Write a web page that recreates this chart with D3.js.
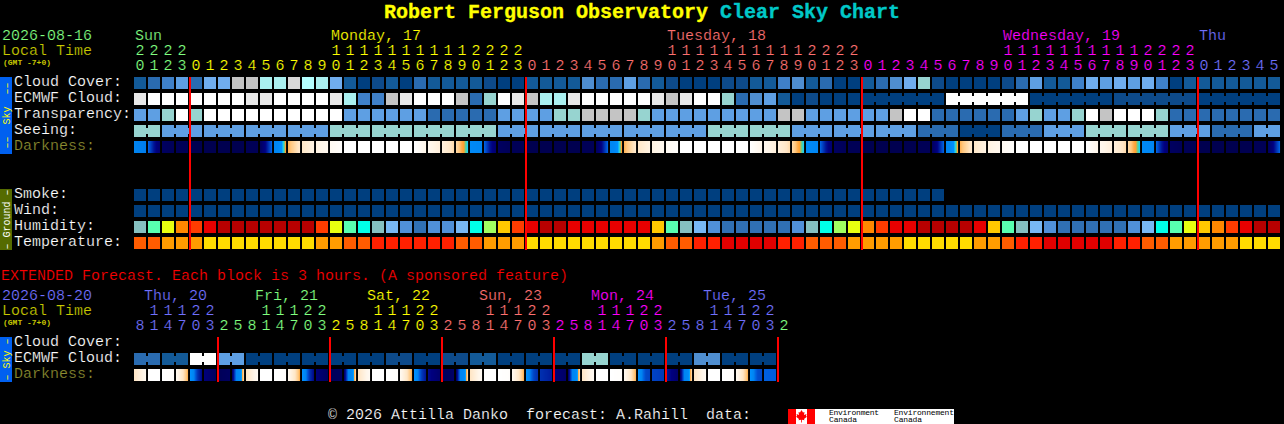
<!DOCTYPE html>
<html>
<head>
<meta charset="utf-8">
<script src="https://cdnjs.cloudflare.com/ajax/libs/d3/7.8.5/d3.min.js"></script>
<style>
html,body{margin:0;padding:0;background:#000;overflow:hidden}
svg{display:block}
text{font-family:"Liberation Mono",monospace;font-size:15px;white-space:pre;stroke:#000;stroke-width:.2px}
text.small{stroke:none}
text.title{stroke-width:.35px}
</style>
</head>
<body>
<script>
// ---------- tick labels ----------
const mainHours = [20,21,22,23,
 0,1,2,3,4,5,6,7,8,9,10,11,12,13,14,15,16,17,18,19,20,21,22,23,
 0,1,2,3,4,5,6,7,8,9,10,11,12,13,14,15,16,17,18,19,20,21,22,23,
 0,1,2,3,4,5,6,7,8,9,10,11,12,13,14,15,16,17,18,19,20,21,22,23,
 0,1,2,3,4,5];
const mainDayLabels = ["Sun","Monday, 17","Tuesday, 18","Wednesday, 19","Thu"];
const mainDayLabelCols = [0,14,38,62,76];
const mainDayStarts = [0,4,28,52,76];
const mainDayColors = ["#80ff80","#ffff00","#ff7070","#ff00ff","#7070ff"];

const extHours = [8,11,14,17,20,23,
 2,5,8,11,14,17,20,23, 2,5,8,11,14,17,20,23, 2,5,8,11,14,17,20,23,
 2,5,8,11,14,17,20,23, 2,5,8,11,14,17,20,23, 2];
const extDayLabels = ["Thu, 20","Fri, 21","Sat, 22","Sun, 23","Mon, 24","Tue, 25"];
const extDayLabelCols = [0,8,16,24,32,40];
const extDayStarts = [0,6,14,22,30,38,46];
const extDayColors = ["#7070ff","#80ff80","#ffff00","#ff7070","#ff00ff","#7070ff","#80ff80"];

const mainRows = ["Cloud Cover:","ECMWF Cloud:","Transparency:","Seeing:","Darkness:"];
const groundRows = ["Smoke:","Wind:","Humidity:","Temperature:"];
const extRows = ["Cloud Cover:","ECMWF Cloud:","Darkness:"];
const midnightCols = [4,28,52,76];
const extMidnightCols = [6,14,22,30,38,46];

// ---------- series values (colour-key levels) ----------
const cloudCover = [2,3,4,6,3,7,7,11,11,9,9,12,10,9,7,2,0,1,2,0,3,2,2,2,2,1,0,0,2,2,2,2,5,3,3,6,3,2,1,0,0,0,1,1,2,2,4,5,2,3,0,0,2,3,5,7,8,1,0,0,0,0,1,3,6,2,2,4,7,6,7,6,7,4,0,2,2,2,2,2,2,2];
const ecmwfCloud = [13,14,14,14,14,14,14,14,13,13,14,14,14,14,13,9,4,4,11,13,14,14,14,11,3,8,14,13,11,9,9,13,14,14,14,14,14,13,11,13,14,14,8,3,5,6,2,0,1,0,0,0,0,0,0,0,0,0,14,14,14,14,14,14,0,0,0,0,0,0,1,1,1,1,1,1,0,0,0,0,0,0];
const transparency = [6,6,8,14,8,14,14,14,14,14,14,14,14,14,14,6,6,6,6,6,6,3,3,3,3,3,6,6,6,6,8,8,11,11,11,11,8,6,6,6,6,6,6,6,6,6,11,11,6,6,6,6,6,6,11,14,14,3,3,3,3,3,3,6,8,6,6,8,14,11,14,14,14,8,3,3,3,3,3,3,3,3];
const seeing = [8,8,6,6,6,6,6,6,6,6,6,6,6,6,8,8,8,8,8,8,8,8,8,8,8,8,6,6,6,6,6,6,6,6,6,6,6,6,6,6,6,8,8,8,8,8,8,6,6,6,6,6,6,6,6,6,3,3,3,0,0,0,3,3,3,6,6,6,8,8,8,8,8,8,6,6,6,3,3,3,6,6];
const darkness = [
 [4.5,4.6],[5,6.6,7.5],[8,8.5],[8.6],[9],[9],[9],[9],[8.6],[8,6.8,5],[4.4,4.2,3.3,3],[2.8,1.9],[1.9,1.2],[1.2,.8],[.6,.2],[0],[0],[0],[0],[0],[0,1],[.8,1.4],[1.4,2.2],[2.3,2.9,3.2],
 [4,4.3],[5,6.6,7.5],[8,8.5],[8.6],[9],[9],[9],[9],[8.6],[8,6.8,5],[4.4,4.2,3.3,3],[2.8,1.9],[1.9,1.2],[1.2,.8],[.6,.2],[0],[0],[0],[0],[0],[0,1],[.8,1.4],[1.4,2.2],[2.3,2.9,3.2],
 [4,4.3],[5,6.6,7.5],[8,8.5],[8.6],[9],[9],[9],[9],[8.6],[8,6.8,5],[4.4,4.2,3.3,3],[2.8,1.9],[1.9,1.2],[1.2,.8],[.6,.2],[0],[0],[0],[0],[0],[0,1],[.8,1.4],[1.4,2.2],[2.3,2.9,3.2],
 [4,4.3],[5,6.6,7.5],[8,8.5],[8.6],[9],[9],[9],[9],[8.6],[8,6.8,5]];
const smoke = [0,0,0,0,0,0,0,0,0,0,0,0,0,0,0,0,0,0,0,0,0,0,0,0,0,0,0,0,0,0,0,0,0,0,0,0,0,0,0,0,0,0,0,0,0,0,0,0,0,0,0,0,0,0,0,0,0,0];
const wind = [0,0,0,0,0,0,0,0,0,0,0,0,0,0,0,0,0,0,0,0,0,0,0,0,0,0,0,0,0,0,0,0,0,0,0,0,0,0,0,0,0,0,0,0,0,0,0,0,0,0,0,0,0,0,0,0,0,0,0,0,0,0,0,0,0,0,0,0,0,0,0,0,0,0,0,0,0,0,0,0,0,0];
const humidity = [50,60,70,80,85,90,95,95,95,95,95,95,95,85,70,60,55,50,45,40,35,40,40,45,55,65,75,85,90,95,95,90,90,90,90,90,90,75,60,50,45,40,35,35,35,35,35,40,50,55,65,70,80,85,90,90,95,95,95,95,90,75,60,50,45,40,35,35,35,35,35,40,45,55,60,70,75,80,85,90,95,95];
const temperature = [77,77,72,72,72,68,68,68,68,68,68,68,68,72,72,77,77,81,81,81,81,81,81,77,77,72,72,72,68,68,68,68,68,68,68,68,68,72,77,77,81,81,86,86,86,86,81,81,77,77,77,72,72,72,72,68,68,68,68,68,72,72,77,81,81,86,86,86,86,86,81,81,77,77,72,72,72,72,72,68,68,68];

const extEcmwf = [3,3,2,2,14,14,6,6,0,0,0,0,0,0,0,0,0,0,1,1,0,0,1,1,2,2,0,0,0,0,0,0,8,8,0,0,0,0,0,0,5,5,0,0,0,0];
const extDarkness = [
 [2,.8],[0],[0,.2],[.8,2.8],[3.4,4.6,6,6.8],[7.2,8],[8.5,8],[7.5,4.5,4,2.4],
 [2,.6],[0],[0,.2],[.8,2.8],[3.4,4.6,6,6.8],[7.2,8],[8.5,8],[7.5,4.5,4,2.4],
 [2,.6],[0],[0,.2],[.8,2.8],[3.4,4.6,5.8,6.5],[6.8,7.6],[8.2,7.8],[7.5,4.5,4,2.4],
 [2,.6],[0],[0,.2],[.8,2.8],[3.4,4.6,5.6,6],[6,6.4],[7.2,7.8],[7.5,4.5,4,2.4],
 [2,.6],[0],[0,.2],[.8,2.8],[3.4,4.6,5.5,5.6],[5.6,5.8],[6.5,7.6],[7.5,4.5,4,2.4],
 [2,.6],[0],[0,.2],[.8,2.8],[3.4,4.6,5.4,5.5],[5,5.1]];

// ---------- colour keys ----------
const cloudLevels = d3.range(15);
const cloudColors = ["#003f7f","#0d4a8a","#135a98","#2a6bb0","#3f80c8","#4f8ed0","#5e9fe3","#70adee","#97d4d0","#aaf0f0","#b4ffff","#c4c4c4","#d8d8d8","#e8e8e8","#ffffff"];
const humidityLevels = [35,40,45,50,55,60,65,70,75,80,85,90,95];
const humidityColors = ["#3070b4","#5090d8","#78b8f4","#85c0c0","#00ffe8","#58ffb0","#a0ff60","#e8ff10","#ffc800","#ff8800","#ff3c00","#e80000","#b80000"];
const tempLevels = [68,72,77,81,86];
const tempColors = ["#ffdc00","#ff9c00","#ff5c00","#ff2000","#e00000"];
const darkStops = [0,1,2,2.6,3,3.1,3.2,3.3,4.5,5,6,7,8,9];
const darkColors = ["#ffffff","#fff6ea","#ffe6c6","#ffc880","#ffa030","#60d090","#20d0f0","#0090ff","#0084f0","#0060e0","#0030b0","#000080","#000060","#000050"];

const cloudScale = d3.scaleOrdinal(cloudLevels, cloudColors);
const humidityScale = d3.scaleOrdinal(humidityLevels, humidityColors);
const tempScale = d3.scaleOrdinal(tempLevels, tempColors);
const darkScale = d3.scaleLinear(darkStops, darkColors).clamp(true);

// ---------- page ----------
const svg = d3.select("body").append("svg").attr("width",1284).attr("height",424);
svg.append("rect").attr("width",1284).attr("height",424).attr("fill","#000");

const step = 14, cell = 12;
const xMain = d3.scaleBand(d3.range(mainHours.length),[134,134+step*82-2]).paddingInner(2/14);
const xExt  = d3.scaleBand(d3.range(46),[134,134+step*46-2]).paddingInner(2/14);
const yMain = d3.scaleBand(mainRows,[77,77+16*5-4]).paddingInner(.25);
const yGround = d3.scaleBand(groundRows,[189,189+16*4-4]).paddingInner(.25);
const yExt = d3.scaleBand(extRows,[337,337+16*3-4]).paddingInner(.25);

function text(x,y,s,color,opts={}){
  const t = svg.append("text").attr("x",x).attr("y",y).attr("fill",color).text(s);
  if(opts.size) t.style("font-size",opts.size+"px").attr("class","small");
  if(opts.weight) t.style("font-weight",opts.weight);
  if(opts.anchor) t.attr("text-anchor",opts.anchor);
  return t;
}

// title
const title = svg.append("text").attr("class","title").attr("x",384).attr("y",18).style("font-size","20px").style("font-weight","bold");
title.append("tspan").attr("fill","#ffff00").style("stroke","#ffff00").text("Robert Ferguson Observatory ");
title.append("tspan").attr("fill","#00c8c8").style("stroke","#00c8c8").text("Clear Sky Chart");

function colorFor(col,starts,colors){ return colors[d3.bisectRight(starts,col)-1]; }

function hourAxis(x,hours,starts,colors,yTens,yOnes){
  hours.forEach((h,i)=>{
    const cx = (i<x.domain().length? x(i) : x(x.domain().length-1)+step*(i-x.domain().length+1)) + x.bandwidth()/2;
    const c = colorFor(i,starts,colors);
    if(h>=10) text(cx,yTens,String(Math.floor(h/10)),c,{anchor:"middle"});
    text(cx,yOnes,String(h%10),c,{anchor:"middle"});
  });
}

// header, main
text(2,40,"2026-08-16","#80ff80");
text(2,55,"Local Time","#c8c800");
text(3,65,"(GMT -7+0)","#c8c800",{size:8,weight:"bold"});
mainDayLabels.forEach((s,i)=>text(xMain(mainDayLabelCols[i])+1,40,s,mainDayColors[i]));
hourAxis(xMain,mainHours,mainDayStarts,mainDayColors,55,70);

// header, extended
text(1,280,"EXTENDED Forecast. Each block is 3 hours. (A sponsored feature)","#ff0000");
text(2,300,"2026-08-20","#7070ff");
text(2,315,"Local Time","#c8c800");
text(3,325,"(GMT -7+0)","#c8c800",{size:8,weight:"bold"});
extDayLabels.forEach((s,i)=>text(xExt(extDayLabelCols[i])+(i===0?10:9),300,s,extDayColors[i]));
hourAxis(xExt,extHours,extDayStarts,extDayColors,315,330);

// row labels
const labelStyles = {"Darkness:":"#8c8c30"};
[[mainRows,yMain],[groundRows,yGround],[extRows,yExt]].forEach(([rows,y])=>{
  rows.forEach(r=>text(14,y(r)+9,r,labelStyles[r]||"#ffffff"));
});

// side bars
function sidebar(y0,y1,fill,color,s){
  svg.append("rect").attr("x",0).attr("y",y0).attr("width",12).attr("height",y1-y0).attr("fill",fill);
  const cy=(y0+y1)/2;
  svg.append("text").attr("class","small").attr("transform",`translate(9.5,${cy}) rotate(-90)`).attr("text-anchor","middle")
     .attr("fill",color).style("font-size","10px").text(s);
}
sidebar(77,154,"#0060f0","#ffff00","\u2013\u2013  Sky  \u2013\u2013");
sidebar(189,250,"#556b00","#ffffff","\u2013 Ground \u2013");
sidebar(337,382,"#0060f0","#ffff00","\u2013 Sky \u2013");

// blocks
function blocks(values,x,y,scale,joined){
  const g = svg.append("g");
  g.selectAll("rect.c").data(values).join("rect").attr("class","c")
    .attr("x",(d,i)=>x(i)).attr("y",y).attr("width",x.bandwidth()).attr("height",cell)
    .attr("fill",d=>scale(d));
  if(joined){
    g.selectAll("rect.n").data(values.map((d,i)=>({d,i})).filter(o=>o.i<values.length-1&&joined(o.i)))
      .join("rect").attr("class","n")
      .attr("x",o=>x(o.i)+x.bandwidth()).attr("y",y+3).attr("width",step-cell).attr("height",cell-6)
      .attr("fill",o=>scale(o.d));
  }
}
function gradientBlocks(values,x,y){
  const strip = d3.range(cell);
  const g = svg.append("g");
  values.forEach((stops,i)=>{
    const interp = stops.length>1 ? d3.piecewise(d3.interpolateNumber,stops) : ()=>stops[0];
    g.selectAll(null).data(strip).join("rect")
      .attr("x",k=>x(i)+k).attr("y",y).attr("width",1.05).attr("height",cell)
      .attr("fill",k=>darkScale(interp(k/(cell-1))));
  });
}

blocks(cloudCover,xMain,yMain("Cloud Cover:"),cloudScale);
blocks(ecmwfCloud,xMain,yMain("ECMWF Cloud:"),cloudScale,i=>i>=52&&(i-51)%6!==0);
blocks(transparency,xMain,yMain("Transparency:"),cloudScale);
blocks(seeing,xMain,yMain("Seeing:"),cloudScale,i=>i%3!==1);
gradientBlocks(darkness,xMain,yMain("Darkness:"));

blocks(smoke,xMain,yGround("Smoke:"),cloudScale);
blocks(wind,xMain,yGround("Wind:"),cloudScale);
blocks(humidity,xMain,yGround("Humidity:"),humidityScale);
blocks(temperature,xMain,yGround("Temperature:"),tempScale);

blocks(extEcmwf,xExt,yExt("ECMWF Cloud:"),cloudScale,i=>i%2===0);
gradientBlocks(extDarkness,xExt,yExt("Darkness:"));

// midnight lines
svg.append("g").selectAll("rect").data(midnightCols).join("rect")
  .attr("x",c=>xMain(c)-1).attr("y",77).attr("width",2).attr("height",173).attr("fill","#ff0000");
svg.append("g").selectAll("rect").data(extMidnightCols).join("rect")
  .attr("x",c=>134+step*c-1).attr("y",337).attr("width",2).attr("height",45).attr("fill","#ff0000");

// footer
text(328,419,"\u00a9 2026 Attilla Danko  forecast: A.Rahill  data:","#ffffff");
svg.append("rect").attr("x",788).attr("y",409).attr("width",166).attr("height",15).attr("fill","#fff");
svg.append("rect").attr("x",788).attr("y",409).attr("width",8).attr("height",15).attr("fill","#f00");
svg.append("rect").attr("x",807).attr("y",409).attr("width",8).attr("height",15).attr("fill","#f00");
svg.append("path").attr("fill","#f00").attr("transform","translate(801.5,416)")
   .attr("d","M0,-6L1.5,-3.5L3,-4L2.5,-1L5,-2L4.5,0L5.5,.8L2.5,3L3,4.2L.4,3.8V6.5H-.4V3.8L-3,4.2L-2.5,3L-5.5,.8L-4.5,0L-5,-2L-2.5,-1L-3,-4L-1.5,-3.5Z");
[["Environment",829,50],["Environnement",894,60]].forEach(([s,x,w])=>{
  svg.append("text").attr("class","small").attr("x",x).attr("y",415).attr("fill","#000").attr("textLength",w).style("font-size","8px").text(s);
  svg.append("text").attr("class","small").attr("x",x).attr("y",421.8).attr("fill","#000").attr("textLength",28).style("font-size","8px").text("Canada");
});
</script>
</body>
</html>
